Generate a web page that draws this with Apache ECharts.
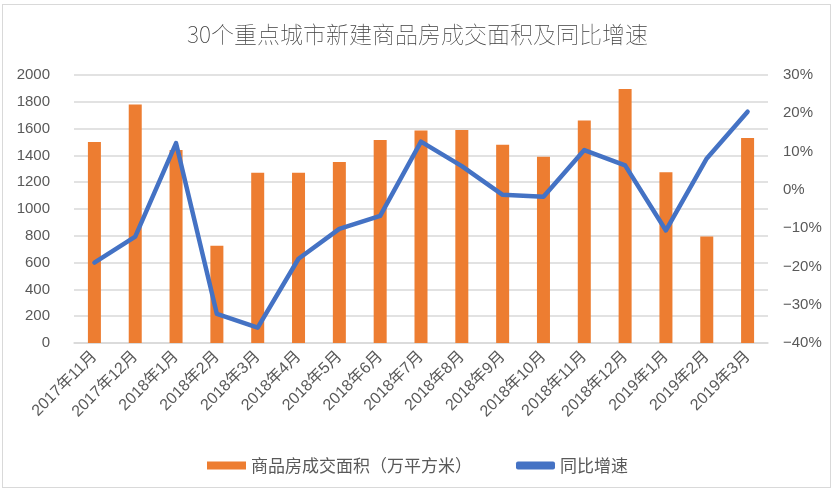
<!DOCTYPE html>
<html><head><meta charset="utf-8">
<script src="https://cdn.jsdelivr.net/npm/echarts@6/dist/echarts.min.js"></script>
<style>html,body{margin:0;padding:0;background:#fff}#c{width:835px;height:493px}
#b{position:absolute;left:2px;top:4px;width:829px;height:484px;border:1px solid #d9d9d9;box-sizing:border-box;pointer-events:none}</style>
</head><body><div id="c"></div><div id="b"></div>
<script>
const categories = ['2017年11月','2017年12月','2018年1月','2018年2月','2018年3月','2018年4月','2018年5月','2018年6月','2018年7月','2018年8月','2018年9月','2018年10月','2018年11月','2018年12月','2019年1月','2019年2月','2019年3月'];
const area = [1500,1780,1440,725,1270,1270,1350,1515,1585,1590,1480,1390,1660,1895,1275,795,1530];
const growth = [-19.0,-12.2,12.2,-32.4,-36.0,-18.0,-10.2,-6.8,12.6,6.2,-1.3,-1.8,10.4,6.4,-10.6,8.2,20.4];
const leftTicks = {min:0,max:2000,interval:200};
const rightTicks = {min:-40,max:30,interval:10};

const chart = echarts.init(document.getElementById('c'));
const font = '"Noto Sans CJK SC", "Liberation Sans", sans-serif';
chart.setOption({
  animation:false,
  title:{text:'30个重点城市新建商品房成交面积及同比增速',left:'center',top:18,
    textStyle:{fontFamily:font,fontSize:23,fontWeight:'lighter',color:'#404040'}},
  legend:{left:'center',top:452,itemGap:44,itemWidth:39,itemHeight:8,
    textStyle:{fontFamily:font,fontSize:17,color:'#595959'},
    data:[{name:'商品房成交面积（万平方米）',icon:'rect'},{name:'同比增速',icon:'roundRect'}]},
  grid:{left:74,right:67,top:75,bottom:150},
  xAxis:{type:'category',data:categories,
    axisLine:{lineStyle:{color:'#d9d9d9',width:1.5}},axisTick:{show:false},
    axisLabel:{rotate:45,interval:0,fontFamily:'"Liberation Sans", "Noto Sans CJK SC", sans-serif',fontSize:16,color:'#595959',margin:11}},
  yAxis:[
    {type:'value',min:leftTicks.min,max:leftTicks.max,interval:leftTicks.interval,
     axisLine:{show:false},axisTick:{show:false},
     splitLine:{lineStyle:{color:'#d9d9d9',width:1.5}},
     axisLabel:{fontFamily:'"Liberation Sans", sans-serif',fontSize:15,color:'#595959',margin:24,
       formatter:v=>String(v)}},
    {type:'value',min:rightTicks.min,max:rightTicks.max,interval:rightTicks.interval,
     axisLine:{show:false},axisTick:{show:false},splitLine:{show:false},
     axisLabel:{fontFamily:'"Liberation Sans", sans-serif',fontSize:15,color:'#595959',margin:15,
       formatter:v=>(v<0?'−'+(-v):v)+'%'}}
  ],
  series:[
    {name:'商品房成交面积（万平方米）',type:'bar',data:area,barWidth:13,
     itemStyle:{color:'#ED7D31'}},
    {name:'同比增速',type:'line',yAxisIndex:1,data:growth,symbol:'none',
     lineStyle:{color:'#4472C4',width:4.5,cap:'round',join:'round'},itemStyle:{color:'#4472C4'}}
  ]
});
</script></body></html>
